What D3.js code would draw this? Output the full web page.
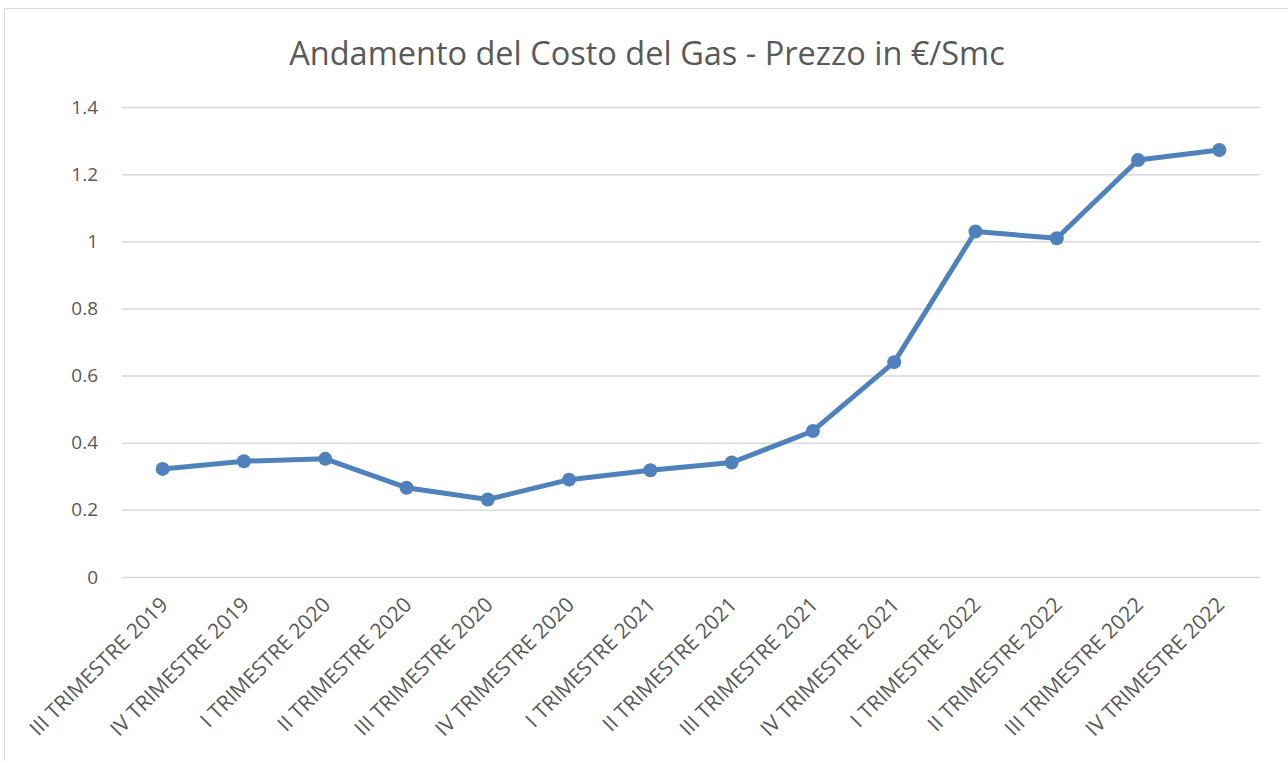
<!DOCTYPE html>
<html>
<head>
<meta charset="utf-8">
<script src="https://cdn.jsdelivr.net/npm/d3@7"></script>
<style>
  html, body { margin: 0; padding: 0; background: #fff; }
  text { font-family: "Open Sans", sans-serif; fill: #595959; }
</style>
</head>
<body>
<div id="chart"></div>
<script>
(function() {
  var categories = ['III TRIMESTRE 2019', 'IV TRIMESTRE 2019', 'I TRIMESTRE 2020', 'II TRIMESTRE 2020',
    'III TRIMESTRE 2020', 'IV TRIMESTRE 2020', 'I TRIMESTRE 2021', 'II TRIMESTRE 2021',
    'III TRIMESTRE 2021', 'IV TRIMESTRE 2021', 'I TRIMESTRE 2022', 'II TRIMESTRE 2022',
    'III TRIMESTRE 2022', 'IV TRIMESTRE 2022'];

  var prices = [0.322, 0.345, 0.352, 0.266, 0.231, 0.290, 0.318, 0.341, 0.435, 0.640, 1.029, 1.009, 1.242, 1.272];

  var yTicks = [0, 0.2, 0.4, 0.6, 0.8, 1, 1.2, 1.4];

  var title = 'Andamento del Costo del Gas - Prezzo in €/Smc';

  var width = 1288, height = 761;
  var left = 122, right = 1260, top = 107, bottom = 577;
  var blue = '#4f81bd';

  var svg = d3.select('#chart').append('svg').attr('width', width).attr('height', height);

  // chart border
  svg.append('rect')
    .attr('x', 4.5).attr('y', 8.5)
    .attr('width', width).attr('height', height)
    .attr('fill', 'none').attr('stroke', '#d9d9d9').attr('stroke-width', 1);

  svg.append('text')
    .attr('x', 647).attr('y', 65)
    .attr('text-anchor', 'middle')
    .attr('font-size', '32.5px')
    .text(title);

  var x = d3.scalePoint().domain(categories).range([left, right]).padding(0.5);
  var y = d3.scaleLinear().domain([0, 1.4]).range([bottom, top]);

  // gridlines + y labels
  var yAxis = d3.axisLeft(y).tickValues(yTicks).tickSize(-(right - left)).tickFormat(d3.format('~g'));
  var gy = svg.append('g').attr('transform', 'translate(' + left + ',0)').call(yAxis);
  gy.select('.domain').remove();
  gy.selectAll('.tick line').attr('stroke', '#d9d9d9').attr('stroke-width', 1.5);
  gy.selectAll('.tick text')
    .attr('x', -24)
    .attr('font-size', '19px')
    .attr('font-family', '"Open Sans", sans-serif')
    .attr('fill', '#595959');

  // x labels
  var xAxis = d3.axisBottom(x).tickSize(0);
  var gx = svg.append('g').attr('transform', 'translate(0,' + bottom + ')').call(xAxis);
  gx.select('.domain').remove();
  gx.selectAll('.tick text')
    .attr('font-size', '21px')
    .attr('font-family', '"Open Sans", sans-serif')
    .attr('fill', '#595959')
    .attr('text-anchor', 'end')
    .attr('y', 0).attr('dy', 0)
    .attr('transform', 'translate(6,29) rotate(-45)');

  var line = d3.line()
    .x(function(d, i) { return x(categories[i]); })
    .y(function(d) { return y(d); });

  svg.append('path')
    .datum(prices)
    .attr('d', line)
    .attr('fill', 'none')
    .attr('stroke', blue)
    .attr('stroke-width', 5)
    .attr('stroke-linejoin', 'round');

  svg.selectAll('circle.pt').data(prices).enter().append('circle')
    .attr('class', 'pt')
    .attr('cx', function(d, i) { return x(categories[i]); })
    .attr('cy', function(d) { return y(d); })
    .attr('r', 7)
    .attr('fill', blue);
})();
</script>
</body>
</html>
